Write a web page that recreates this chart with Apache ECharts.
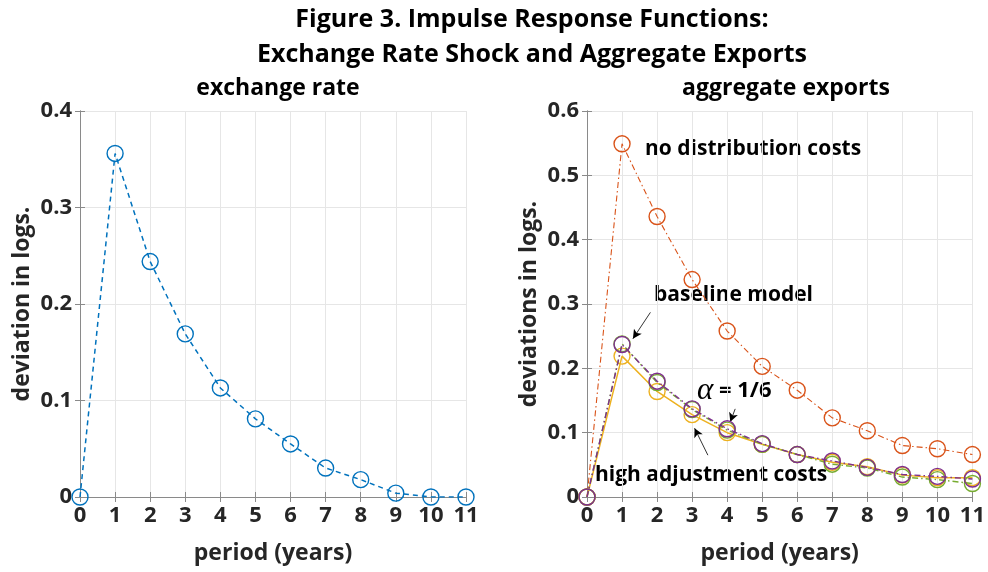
<!DOCTYPE html>
<html><head><meta charset="utf-8">
<script src="https://cdn.jsdelivr.net/npm/echarts@6/dist/echarts.min.js"></script>
<style>html,body{margin:0;padding:0;background:#fff}#c{width:988px;height:572px}</style>
</head><body><div id="c"></div>
<script>
const periods = [0, 1, 2, 3, 4, 5, 6, 7, 8, 9, 10, 11];
const exchangeRate = [0, 0.356, 0.244, 0.169, 0.113, 0.081, 0.055, 0.030, 0.018, 0.004, 0, 0];
const noDistribution = [0, 0.549, 0.436, 0.338, 0.258, 0.203, 0.166, 0.123, 0.103, 0.080, 0.075, 0.066];
const highAdjustment = [0, 0.219, 0.164, 0.128, 0.100, 0.082, 0.066, 0.054, 0.047, 0.034, 0.030, 0.030];
const alphaSixth = [0, 0.238, 0.178, 0.136, 0.104, 0.082, 0.066, 0.051, 0.045, 0.031, 0.027, 0.021];
const baseline = [0, 0.237, 0.180, 0.137, 0.106, 0.083, 0.066, 0.056, 0.046, 0.035, 0.032, 0.028];

const FONT = '"Open Sans", sans-serif';
const TXT = '#262626';
const AX = '#8a8a8a';
const GRIDC = '#e6e6e6';

function pairs(vals) { return periods.map((p, i) => [p, vals[i]]); }

function xAxes(gi) {
  return [
    { gridIndex: gi, type: 'value', min: 0, max: 11, interval: 1, position: 'bottom',
      name: 'period (years)', nameLocation: 'middle', nameGap: 45,
      nameTextStyle: { fontFamily: FONT, fontWeight: 'bold', fontSize: 23, color: TXT },
      axisLine: { lineStyle: { color: AX, width: 1 } },
      axisTick: { inside: true, length: 5, lineStyle: { color: AX } },
      axisLabel: { fontFamily: FONT, fontWeight: 'bold', fontSize: 22, color: TXT, margin: 8 },
      splitLine: { show: true, lineStyle: { color: GRIDC, width: 1 } } },
    { gridIndex: gi, type: 'value', min: 0, max: 11, interval: 1, position: 'top',
      axisLine: { lineStyle: { color: AX, width: 1 } },
      axisTick: { inside: true, length: 5, lineStyle: { color: AX } },
      axisLabel: { show: false }, splitLine: { show: false } }
  ];
}
function yAxes(gi, max, name) {
  return [
    { gridIndex: gi, type: 'value', min: 0, max: max, interval: 0.1, position: 'left',
      name: name, nameLocation: 'middle', nameGap: 46,
      nameTextStyle: { fontFamily: FONT, fontWeight: 'bold', fontSize: 23, color: TXT },
      axisLine: { show: true, lineStyle: { color: AX, width: 1 } },
      axisTick: { show: true, inside: true, length: 5, lineStyle: { color: AX } },
      axisLabel: { fontFamily: FONT, fontWeight: 'bold', fontSize: 22, color: TXT, margin: 8 },
      splitLine: { show: true, lineStyle: { color: GRIDC, width: 1 } } },
    { gridIndex: gi, type: 'value', min: 0, max: max, interval: 0.1, position: 'right',
      axisLine: { show: true, lineStyle: { color: AX, width: 1 } },
      axisTick: { show: true, inside: true, length: 5, lineStyle: { color: AX } },
      axisLabel: { show: false }, splitLine: { show: false } }
  ];
}

function lineSeries(xi, yi, vals, color, type, width, z) {
  return {
    type: 'line', xAxisIndex: xi, yAxisIndex: yi, data: pairs(vals),
    symbol: 'circle', symbolSize: 16, z: z,
    itemStyle: { color: 'rgba(0,0,0,0)', borderColor: color, borderWidth: 1.4 },
    lineStyle: { color: color, width: width, type: type },
    emphasis: { disabled: true }, animation: false
  };
}

const dashDot = [6, 3, 1.5, 3];
const arrowStyle = { color: '#000', width: 0.8, type: 'solid' };

const chart = echarts.init(document.getElementById('c'), null, { renderer: 'canvas' });
chart.setOption({
  animation: false,
  backgroundColor: '#fff',
  title: [
    { text: 'Figure 3. Impulse Response Functions:\nExchange Rate Shock and Aggregate Exports',
      left: 527, top: -3, textAlign: 'center',
      textStyle: { fontFamily: FONT, fontWeight: 'bold', fontSize: 25, color: '#000', lineHeight: 35 } },
    { text: 'exchange rate', left: 273, top: 72, textAlign: 'center',
      textStyle: { fontFamily: FONT, fontWeight: 'bold', fontSize: 23, color: '#000' } },
    { text: 'aggregate exports', left: 781, top: 72, textAlign: 'center',
      textStyle: { fontFamily: FONT, fontWeight: 'bold', fontSize: 23, color: '#000' } }
  ],
  grid: [
    { left: 80, top: 111, width: 386, height: 386 },
    { left: 587, top: 111, width: 386, height: 386 }
  ],
  xAxis: [...xAxes(0), ...xAxes(1)],
  yAxis: [...yAxes(0, 0.4, 'deviation in logs.'), ...yAxes(1, 0.6, 'deviations in logs.')],
  series: [
    lineSeries(0, 0, exchangeRate, '#0072BD', [5, 4], 1.5, 3),
    lineSeries(2, 2, noDistribution, '#D95319', dashDot, 1.1, 3),
    lineSeries(2, 2, highAdjustment, '#EDB120', 'solid', 1.5, 4),
    lineSeries(2, 2, alphaSixth, '#77AC30', dashDot, 1.4, 5),
    Object.assign(lineSeries(2, 2, baseline, '#7E2F8E', dashDot, 1.4, 6), {
      markLine: {
        silent: true, symbol: ['none', 'arrow'], symbolSize: [7, 9], animation: false,
        label: { show: false }, lineStyle: arrowStyle,
        data: [
          [{ coord: [1.81, 0.287] }, { coord: [1.31, 0.246] }],
          [{ coord: [4.23, 0.137] }, { coord: [4.09, 0.117] }],
          [{ coord: [3.45, 0.065] }, { coord: [3.07, 0.107] }]
        ]
      }
    })
  ],
  graphic: [
    { type: 'text', left: 645, top: 139, silent: true,
      style: { text: 'no distribution costs', fontFamily: FONT, fontWeight: 'bold', fontSize: 21, fill: '#000' } },
    { type: 'text', left: 654, top: 285, silent: true,
      style: { text: 'baseline model', fontFamily: FONT, fontWeight: 'bold', fontSize: 21, fill: '#000' } },
    { type: 'text', left: 697, top: 375, silent: true,
      style: { text: '{a|α} {b|= 1/6}', fontFamily: FONT, fontWeight: 'bold', fontSize: 22, fill: '#000',
        rich: { a: { fontFamily: '"Liberation Serif", "DejaVu Serif", serif', fontStyle: 'italic', fontWeight: 'normal', fontSize: 31, fill: '#000' },
                b: { fontFamily: FONT, fontWeight: 'bold', fontSize: 22, fill: '#000' } } } },
    { type: 'text', left: 595, top: 465, silent: true,
      style: { text: 'high adjustment costs', fontFamily: FONT, fontWeight: 'bold', fontSize: 21, fill: '#000' } }
  ]
});
</script>
</body></html>
